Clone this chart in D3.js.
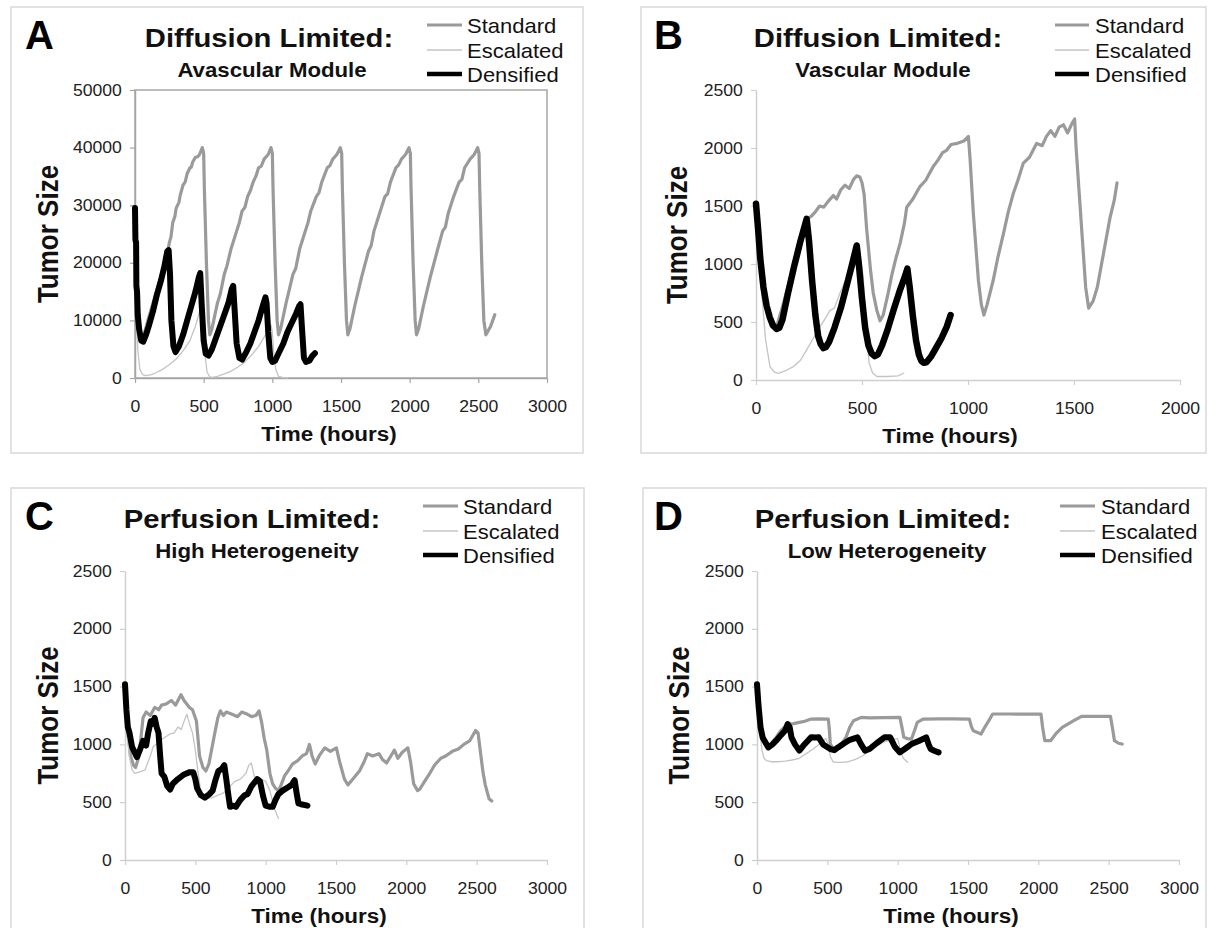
<!DOCTYPE html>
<html>
<head>
<meta charset="utf-8">
<script src="https://cdn.jsdelivr.net/npm/d3@7"></script>
<style>
  body { margin: 0; background: #fff; }
  svg { display: block; font-family: "Liberation Sans", Arial, sans-serif; }
</style>
</head>
<body>
<div id="chart"></div>
<script>
// ---- data: [time (hours), tumor size] ----
const seriesNames = ["Standard", "Escalated", "Densified"];

const xTicks3000 = [0, 500, 1000, 1500, 2000, 2500, 3000];
const xTicks2000 = [0, 500, 1000, 1500, 2000];
const yTicks50000 = [0, 10000, 20000, 30000, 40000, 50000];
const yTicks2500 = [0, 500, 1000, 1500, 2000, 2500];

const aStandard = [[0,29500],[4,24000],[12,15000],[25,10000],[45,6800],[60,7000],[100,10500],[150,14500],[200,18500],[240,22200],[250,23500],[262,24500],[275,27000],[290,28000],[300,29500],[320,30500],[330,31800],[350,33500],[365,34000],[380,35500],[400,36500],[410,36600],[420,37500],[440,38300],[455,38400],[470,38800],[490,40000],[500,39000],[505,33000],[520,20000],[535,10000],[545,7500],
  [560,8500],[600,13000],[620,14500],[650,18000],[670,19500],[700,22500],[740,25500],[760,27000],[780,29000],[800,29600],[820,31500],[840,32500],[860,34000],[880,35000],[900,36500],[920,36800],[940,38000],[970,38800],[990,40000],[1000,39000],[1005,33000],[1020,20000],[1035,10000],[1045,7500],
  [1060,8500],[1100,13000],[1150,18000],[1170,19000],[1200,22500],[1240,25500],[1260,27000],[1280,29000],[1320,31500],[1340,32200],[1360,34000],[1400,36500],[1420,36900],[1440,38000],[1470,38800],[1495,40000],[1505,39000],[1510,33000],[1525,20000],[1540,10000],[1550,7500],
  [1565,8500],[1600,12500],[1650,17500],[1700,22000],[1720,23000],[1740,25500],[1780,28500],[1820,31500],[1840,32000],[1860,34000],[1900,36500],[1920,37000],[1940,38000],[1970,38800],[1995,40000],[2005,39000],[2010,33000],[2025,20000],[2040,10000],[2050,7500],
  [2065,8500],[2100,12500],[2150,17500],[2200,22000],[2240,25500],[2260,26200],[2280,28500],[2320,31500],[2360,34000],[2380,34500],[2400,36500],[2440,38000],[2470,38800],[2495,40000],[2505,39000],[2510,33000],[2525,20000],[2540,10000],[2555,7500],[2590,9000],[2620,11000]];
const aEscalated = [[0,29500],[4,20000],[10,11000],[20,5000],[35,1500],[55,600],[80,400],[120,600],[160,1000],[200,1500],[250,2300],[300,3300],[350,4700],[400,6500],[440,9000],[470,11500],[490,12500],[500,9000],[510,4000],[525,1000],[545,200],[560,100],[600,300],[650,700],[700,1200],[750,1900],[800,2800],[850,4000],[900,5500],[950,7500],[990,9200],[1000,8000],[1010,4500],[1025,1500],[1045,300],[1080,50],[1110,0]];
const aDensified = [[0,29500],[3,24000],[8,23500],[10,16000],[15,15000],[20,11000],[30,8500],[45,6500],[60,6300],[80,7500],[100,9000],[130,11500],[160,14500],[190,17000],[215,19500],[235,22000],[245,22200],[255,18000],[265,10000],[280,5500],[295,4500],[320,5500],[350,7500],[380,10000],[410,12500],[440,15000],[465,17500],[475,18200],[485,13000],[500,6500],[515,4200],[535,3900],[560,5000],[590,7000],[620,9000],[650,11000],[680,13000],[705,15500],[715,16000],[725,12000],[740,6000],[760,3500],[780,3200],[810,4500],[840,6000],[870,8000],[900,10000],[930,12500],[950,14000],[958,13000],[970,8000],[985,3500],[1000,2800],[1020,3000],[1050,4500],[1080,6000],[1110,8000],[1140,9500],[1170,11000],[1195,12500],[1205,12800],[1215,9000],[1230,3500],[1245,2800],[1270,3000],[1290,3800],[1310,4300]];

const bStandard = [[0,1500],[20,1000],[40,700],[60,560],[80,500],[97,460],[120,600],[150,800],[180,1000],[210,1200],[239,1390],[260,1410],[280,1450],[300,1500],[320,1490],[340,1540],[365,1590],[380,1560],[400,1640],[420,1680],[440,1650],[460,1730],[475,1760],[490,1750],[500,1700],[510,1600],[522,1300],[540,950],[553,750],[570,600],[585,510],[600,560],[620,720],[640,900],[660,1050],[680,1180],[700,1350],[711,1490],[740,1560],[774,1670],[800,1720],[836,1840],[860,1900],[880,1960],[899,1980],[920,2030],[950,2040],[980,2060],[1002,2100],[1010,1900],[1025,1440],[1049,860],[1063,650],[1075,560],[1090,650],[1119,860],[1140,1050],[1167,1260],[1190,1450],[1214,1610],[1235,1720],[1261,1870],[1290,1920],[1324,2040],[1350,2020],[1370,2100],[1390,2150],[1410,2100],[1430,2180],[1450,2200],[1470,2130],[1490,2210],[1503,2250],[1510,2000],[1525,1600],[1540,1200],[1555,800],[1569,620],[1590,680],[1610,800],[1630,1000],[1650,1200],[1670,1400],[1690,1550],[1703,1700]];
const bEscalated = [[0,1500],[10,1200],[27,750],[45,350],[66,115],[85,70],[105,57],[140,80],[176,115],[210,170],[239,260],[270,360],[302,460],[330,540],[349,600],[370,620],[396,750],[420,850],[443,890],[470,1000],[490,1100],[505,900],[520,500],[533,150],[550,60],[570,30],[620,30],[670,35],[697,60]];
const bDensified = [[0,1520],[10,1300],[20,1050],[35,800],[50,640],[65,540],[80,470],[97,440],[110,450],[125,520],[150,740],[180,980],[210,1200],[239,1390],[250,1200],[265,850],[280,560],[293,380],[305,310],[318,275],[330,285],[345,330],[370,450],[400,620],[430,830],[455,1010],[475,1160],[485,1000],[500,700],[515,450],[530,300],[545,230],[560,205],[575,220],[595,300],[620,430],[650,610],[680,780],[700,880],[714,960],[725,800],[740,550],[755,340],[768,220],[780,165],[792,148],[805,155],[825,200],[850,280],[875,360],[900,460],[918,560]];

const cStandard = [[0,1500],[20,1100],[40,900],[60,820],[75,800],[100,900],[128,1230],[150,1280],[180,1250],[211,1320],[240,1300],[260,1340],[293,1350],[330,1380],[360,1340],[398,1430],[420,1380],[458,1320],[480,1300],[508,1200],[530,900],[554,800],[575,770],[596,830],[615,950],[637,1090],[660,1230],[678,1290],[700,1250],[720,1280],[761,1260],[800,1240],[830,1280],[871,1260],[900,1240],[930,1250],[953,1290],[970,1200],[990,1050],[1008,950],[1030,750],[1049,660],[1070,620],[1091,600],[1110,650],[1135,730],[1159,770],[1190,830],[1228,860],[1260,900],[1290,920],[1311,1000],[1330,900],[1352,830],[1380,900],[1420,970],[1460,940],[1503,970],[1520,880],[1530,830],[1560,700],[1585,650],[1620,700],[1667,770],[1700,850],[1723,920],[1760,900],[1805,920],[1830,870],[1860,840],[1890,900],[1915,950],[1940,880],[1970,930],[2011,970],[2030,850],[2052,660],[2080,600],[2094,610],[2130,680],[2162,740],[2200,820],[2245,880],[2280,900],[2327,940],[2370,960],[2409,1000],[2450,1030],[2492,1120],[2510,1100],[2525,950],[2545,760],[2561,650],[2588,530],[2607,510]];
const cEscalated = [[0,1500],[15,1100],[30,900],[50,780],[70,750],[100,760],[143,780],[180,900],[200,980],[240,1020],[280,1060],[321,1090],[350,1100],[376,1150],[400,1130],[420,1200],[440,1260],[458,1180],[480,1100],[500,950],[520,750],[542,560],[580,530],[620,540],[660,560],[700,580],[740,630],[780,680],[820,700],[860,750],[880,820],[898,840],[920,720],[960,700],[1000,680],[1030,600],[1060,450],[1091,360]];
const cDensified = [[0,1520],[10,1300],[20,1150],[32,1100],[50,980],[73,920],[85,890],[105,950],[128,1030],[150,990],[165,1100],[183,1200],[200,1180],[211,1230],[225,1150],[238,1100],[250,900],[260,750],[280,720],[300,640],[321,610],[340,660],[376,700],[420,740],[460,760],[485,760],[500,700],[513,620],[540,560],[568,540],[600,570],[623,600],[645,700],[664,770],[690,790],[706,820],[720,700],[735,560],[747,460],[770,470],[788,460],[820,520],[850,560],[871,570],[900,640],[940,700],[960,680],[980,560],[1000,470],[1030,460],[1050,460],[1070,520],[1091,570],[1120,600],[1159,630],[1185,650],[1206,690],[1220,580],[1233,490],[1260,480],[1297,470]];

const dStandard = [[0,1500],[20,1200],[40,1050],[60,1000],[80,980],[110,1020],[136,1060],[170,1120],[218,1176],[260,1180],[301,1190],[340,1200],[384,1219],[440,1220],[507,1219],[515,1120],[521,1003],[540,970],[563,960],[600,1000],[632,1061],[660,1150],[686,1205],[741,1234],[800,1230],[900,1232],[1016,1234],[1030,1150],[1044,1061],[1070,1050],[1098,1046],[1120,1120],[1139,1190],[1181,1219],[1300,1220],[1400,1220],[1510,1219],[1525,1150],[1538,1118],[1593,1090],[1620,1150],[1648,1205],[1675,1263],[1800,1263],[1900,1262],[2019,1263],[2030,1150],[2046,1032],[2087,1032],[2130,1100],[2170,1147],[2252,1205],[2307,1242],[2400,1242],[2513,1242],[2530,1120],[2541,1032],[2570,1010],[2596,1003]];
const dEscalated = [[0,1500],[15,1200],[35,950],[50,880],[66,860],[100,850],[150,850],[200,855],[250,865],[300,880],[350,920],[400,960],[450,1010],[490,1050],[505,1000],[520,900],[540,850],[560,845],[600,845],[650,850],[700,870],[750,900],[800,950],[850,990],[900,1020],[950,1040],[1000,1050],[1020,950],[1040,880],[1071,845]];
const dDensified = [[0,1520],[10,1350],[25,1150],[40,1060],[53,1032],[81,974],[110,1000],[136,1032],[170,1080],[200,1120],[218,1176],[232,1150],[245,1061],[270,1000],[301,946],[330,990],[360,1030],[384,1061],[420,1060],[439,1061],[470,1000],[521,960],[550,950],[576,974],[620,1010],[660,1040],[714,1061],[740,1000],[768,946],[800,960],[850,1010],[906,1061],[947,1061],[980,980],[1016,931],[1050,960],[1098,1003],[1150,1030],[1203,1061],[1220,1000],[1235,960],[1260,945],[1291,931]];

// ---- layout of the four panels ----
const panels = [
  { letter: "A", title: "Diffusion Limited:", subtitle: "Avascular Module",
    series: [aStandard, aEscalated, aDensified], xTicks: xTicks3000, yTicks: yTicks50000,
    plot: { l: 135, r: 547, t: 90, b: 378 }, frame: { l: 11, r: 583, t: 7, b: 453 },
    letterX: 25, titleX: 269, subX: 272, yTitleX: 58, legend: { x1: 427, x2: 462, tx: 467 },
    box: true, axisColor: "#a6a6a6", densW: 6 },
  { letter: "B", title: "Diffusion Limited:", subtitle: "Vascular Module",
    series: [bStandard, bEscalated, bDensified], xTicks: xTicks2000, yTicks: yTicks2500,
    plot: { l: 756, r: 1180, t: 90, b: 380 }, frame: { l: 641, r: 1206, t: 7, b: 453 },
    letterX: 654, titleX: 878, subX: 883, yTitleX: 687, legend: { x1: 1055, x2: 1089, tx: 1095 },
    box: false, axisColor: "#cfcfcf", densW: 6.5 },
  { letter: "C", title: "Perfusion Limited:", subtitle: "High Heterogeneity",
    series: [cStandard, cEscalated, cDensified], xTicks: xTicks3000, yTicks: yTicks2500,
    plot: { l: 125, r: 547, t: 571, b: 860 }, frame: { l: 11, r: 584, t: 488, b: 940 },
    letterX: 25, titleX: 252, subX: 257, yTitleX: 58, legend: { x1: 423, x2: 458, tx: 463 },
    box: false, axisColor: "#cfcfcf", densW: 6 },
  { letter: "D", title: "Perfusion Limited:", subtitle: "Low Heterogeneity",
    series: [dStandard, dEscalated, dDensified], xTicks: xTicks3000, yTicks: yTicks2500,
    plot: { l: 757, r: 1179, t: 571, b: 860 }, frame: { l: 643, r: 1206, t: 488, b: 940 },
    letterX: 654, titleX: 883, subX: 887, yTitleX: 689, legend: { x1: 1060, x2: 1095, tx: 1101 },
    box: false, axisColor: "#cfcfcf", densW: 6 }
];

const seriesStyle = [
  { color: "#9a9a9a", width: 3.2 },
  { color: "#c4c4c4", width: 1.3 },
  { color: "#000000", width: 6 }
];

const svg = d3.select("#chart").append("svg")
  .attr("width", 1212)
  .attr("height", 928);

svg.append("rect").attr("width", 1212).attr("height", 928).attr("fill", "#fff");

// text drawn a bit wider than the font, like the stretched original figure
function addText(g, x, y, str, opts) {
  const sx = opts.sx || 1;
  const rot = opts.rotate ? ` rotate(${opts.rotate})` : "";
  return g.append("text")
    .attr("transform", `translate(${x},${y}) scale(${sx},1)${rot}`)
    .attr("text-anchor", opts.anchor || "start")
    .attr("font-size", opts.size)
    .attr("font-weight", opts.weight || "normal")
    .attr("fill", opts.fill || "#111")
    .text(str);
}

panels.forEach(p => {
  const g = svg.append("g");

  g.append("rect")
    .attr("x", p.frame.l).attr("y", p.frame.t)
    .attr("width", p.frame.r - p.frame.l).attr("height", p.frame.b - p.frame.t)
    .attr("fill", "none").attr("stroke", "#d9d9d9").attr("stroke-width", 1.5);

  const x = d3.scaleLinear()
    .domain([0, d3.max(p.xTicks)])
    .range([p.plot.l, p.plot.r]);
  const y = d3.scaleLinear()
    .domain([0, d3.max(p.yTicks)])
    .range([p.plot.b, p.plot.t]);

  if (p.box) {
    g.append("rect")
      .attr("x", p.plot.l).attr("y", p.plot.t)
      .attr("width", p.plot.r - p.plot.l).attr("height", p.plot.b - p.plot.t)
      .attr("fill", "none").attr("stroke", p.axisColor).attr("stroke-width", 1.5);
  }

  const xAxis = g.append("g")
    .attr("transform", `translate(0,${p.plot.b})`)
    .call(d3.axisBottom(x).tickValues(p.xTicks).tickSize(5).tickSizeOuter(0).tickPadding(18).tickFormat(d3.format("d")));
  const yAxis = g.append("g")
    .attr("transform", `translate(${p.plot.l},0)`)
    .call(d3.axisLeft(y).tickValues(p.yTicks).tickSize(5).tickSizeOuter(0).tickPadding(8).tickFormat(d3.format("d")));

  [xAxis, yAxis].forEach(ax => {
    ax.select(".domain").attr("stroke", p.axisColor).attr("stroke-width", 1.5);
    ax.selectAll(".tick line").attr("stroke", p.axisColor).attr("stroke-width", 1.2);
    ax.selectAll(".tick text")
      .attr("font-size", 16)
      .attr("font-family", "Liberation Sans, Arial, sans-serif")
      .attr("fill", "#222");
  });
  xAxis.selectAll(".tick text").attr("transform", "scale(1.1,1)");
  yAxis.selectAll(".tick text").attr("transform", "scale(1.1,1)").attr("x", -12);

  const line = d3.line()
    .x(d => x(d[0]))
    .y(d => y(d[1]));

  p.series.forEach((data, i) => {
    const st = seriesStyle[i];
    g.append("path")
      .datum(data)
      .attr("fill", "none")
      .attr("stroke", st.color)
      .attr("stroke-width", i === 2 ? p.densW : st.width)
      .attr("stroke-linejoin", "round")
      .attr("stroke-linecap", "round")
      .attr("d", line);
  });

  // titles
  addText(g, p.letterX, p.frame.t + 42, p.letter, { size: 40, weight: "bold", fill: "#000" });
  addText(g, p.titleX, p.frame.t + 40, p.title, { size: 25, weight: "bold", sx: 1.17, anchor: "middle" });
  addText(g, p.subX, p.frame.t + 70, p.subtitle, { size: 19.5, weight: "bold", sx: 1.14, anchor: "middle" });

  // axis titles
  addText(g, p.plot.l + 194, p.plot.b + 63, "Time (hours)", { size: 21, weight: "bold", sx: 1.07, anchor: "middle" });
  addText(g, p.yTitleX, (p.plot.t + p.plot.b) / 2, "Tumor Size", { size: 26, weight: "bold", sx: 1.1, anchor: "middle", rotate: -90 });

  // legend
  const rows = [18, 43, 67];
  seriesNames.forEach((name, i) => {
    const st = seriesStyle[i];
    const ly = p.frame.t + rows[i];
    g.append("line")
      .attr("x1", p.legend.x1).attr("x2", p.legend.x2)
      .attr("y1", ly).attr("y2", ly)
      .attr("stroke", st.color)
      .attr("stroke-width", i === 2 ? 4.5 : st.width);
    addText(g, p.legend.tx, ly + 8, name, { size: 20, sx: 1.1, fill: "#111" });
  });
});
</script>
</body>
</html>
